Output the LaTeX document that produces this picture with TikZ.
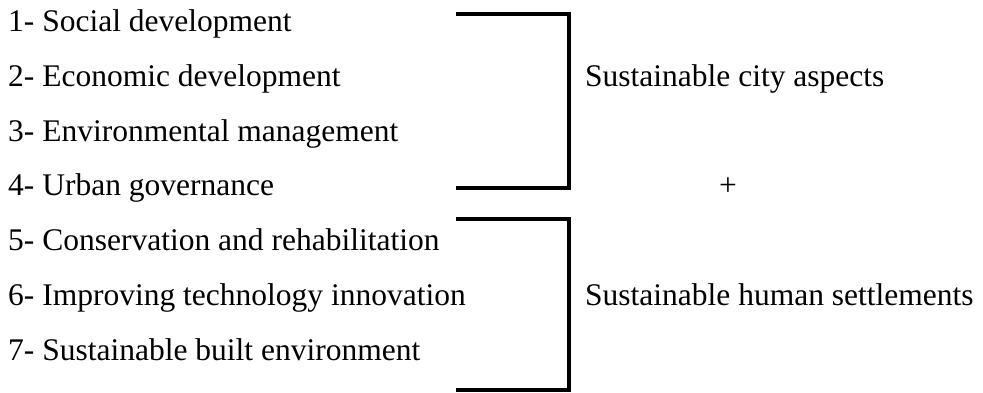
\documentclass[tikz,border=0pt]{standalone}
\usepackage{fontspec}
\setmainfont{Liberation Serif}
\begin{document}
\begin{tikzpicture}[x=1pt,y=-1pt,
    item/.style={anchor=base west,inner sep=0pt,font=\fontsize{31.5}{36}\selectfont},
    bracket/.style={line width=4pt,line cap=butt,line join=miter}]
  \useasboundingbox (0,0) rectangle (983,393);
  % aspects
  \node[item] (social) at (8,31.5) {1- Social development};
  \node[item] (economic) at (8,86.3) {2- Economic development};
  \node[item] (environment) at (8,141.1) {3- Environmental management};
  \node[item] (governance) at (8,195.9) {4- Urban governance};
  \node[item] (conservation) at (8,250.7) {5- Conservation and rehabilitation};
  \node[item] (technology) at (8,305.5) {6- Improving technology innovation};
  \node[item] (built) at (8,360.3) {7- Sustainable built environment};
  % groups
  \node[item] (city) at (585,86.3) {Sustainable city aspects};
  \node[item,anchor=base] (plus) at (728,195.9) {+};
  \node[item] (settlements) at (585,305.5) {Sustainable human settlements};
  % brackets
  \coordinate (cityTop) at (456,14);
  \coordinate (cityBot) at (456,188.5);
  \coordinate (setTop) at (456,219);
  \coordinate (setBot) at (456,389.5);
  \draw[bracket] (cityTop) -- (569,14) -- (569,188.5) -- (cityBot);
  \draw[bracket] (setTop) -- (569,219) -- (569,389.5) -- (setBot);
\end{tikzpicture}
\end{document}
